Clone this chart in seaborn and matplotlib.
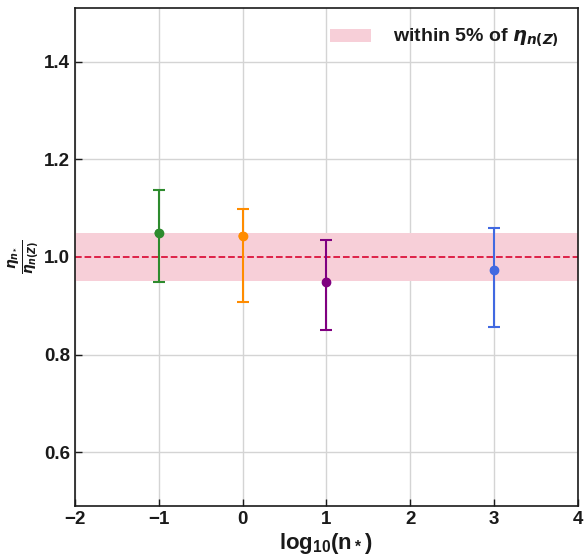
import matplotlib
matplotlib.use("Agg")
import matplotlib.pyplot as plt
import seaborn as sns
import pandas as pd

log_nstar = [-1, 0, 1, 3]
ratio = [1.049, 1.043, 0.949, 0.973]
err_low = [0.100, 0.135, 0.098, 0.116]
err_high = [0.088, 0.055, 0.086, 0.086]
colors = ["#2e8b2e", "#ff8c00", "#800080", "#4169e1"]

sns.set_theme(style="whitegrid")
plt.rcParams["font.family"] = ["Liberation Sans", "DejaVu Sans"]
plt.rcParams["font.weight"] = "bold"
plt.rcParams["mathtext.fontset"] = "dejavusans"

df = pd.DataFrame({"x": log_nstar, "y": ratio, "lo": err_low, "hi": err_high, "c": colors})

fig, ax = plt.subplots(figsize=(5.85, 5.55), dpi=100)
fig.subplots_adjust(left=0.128, right=0.988, top=0.986, bottom=0.088)

ax.axhspan(0.95, 1.05, color="#f7cfd8", lw=0, label=r"within 5% of $\boldsymbol{\eta_{n(Z)}}$", zorder=1)
ax.axhline(1.0, color="#dc143c", ls="--", lw=1.3, zorder=2)

for _, r in df.iterrows():
    ax.errorbar(r.x, r.y, yerr=[[r.lo], [r.hi]], fmt="o", color=r.c, ms=6,
                capsize=4, elinewidth=1.5, capthick=1.5, zorder=3)
sns.scatterplot(data=df, x="x", y="y", hue="c", palette=dict(zip(colors, colors)),
                s=36, legend=False, ax=ax, zorder=4, edgecolor="none")

ax.set_xlim(-2, 4)
ax.set_ylim(0.49, 1.51)
ax.set_xticks([-2, -1, 0, 1, 2, 3, 4])
ax.set_yticks([0.6, 0.8, 1.0, 1.2, 1.4])
ax.tick_params(direction="in", length=5, labelsize=13.5, colors="#1a1a1a", width=1)
for lab in ax.get_xticklabels() + ax.get_yticklabels():
    lab.set_fontweight("bold")
ax.tick_params(axis="both", which="both", bottom=True, left=True, top=False, right=False)
for s in ax.spines.values():
    s.set_color("#1a1a1a")
    s.set_linewidth(1.2)
ax.grid(True, color="#d4d4d4", lw=1)
ax.set_axisbelow(True)

ax.set_xlabel(r"$\mathregular{log_{10}(n_*)}$", fontsize=16, fontweight="bold", labelpad=2,
              color="#1a1a1a")
ax.set_ylabel(r"$\boldsymbol{\frac{\eta_{n_*}}{\eta_{n(Z)}}}$", fontsize=14, labelpad=2,
              color="#1a1a1a")

leg = ax.legend(loc="upper right", frameon=False, fontsize=14, handlelength=2.1,
                handletextpad=1.1, borderaxespad=0.6)
for t in leg.get_texts():
    t.set_fontweight("bold")
    t.set_color("#1a1a1a")

fig.savefig("out.png", dpi=100)
